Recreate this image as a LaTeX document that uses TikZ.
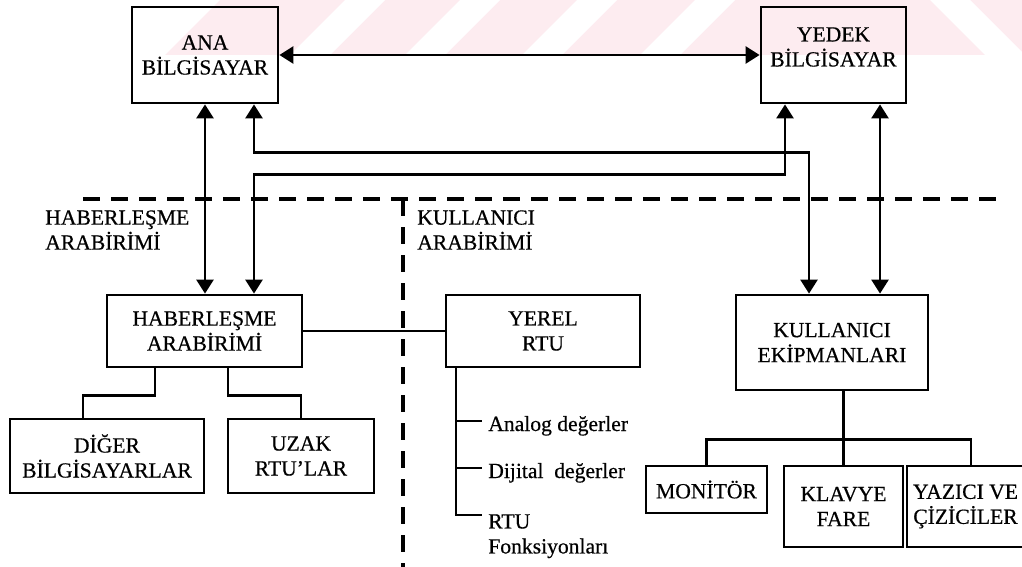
\documentclass[tikz,border=0pt]{standalone}
\usepackage{fontspec}
\setmainfont[FakeBold=0.5]{Liberation Serif}
\usetikzlibrary{arrows.meta}
\definecolor{wmpink}{RGB}{253,236,240}

\begin{document}
\begin{tikzpicture}[x=0.5pt, y=-0.5pt, >={Triangle[length=7pt, width=8.5pt]}, line width=1.3pt,
  box/.style={draw, line width=1.4pt, align=center, inner sep=0pt,
              font=\fontsize{10.8}{12.5}\selectfont},
  lbl/.style={align=left, inner sep=0pt, font=\fontsize{10.8}{12.5}\selectfont},
  sep/.style={line width=2.3pt, dash pattern=on 8.5pt off 5.5pt}]
  \useasboundingbox (0,0) rectangle (1022,567);
  \clip (0,0) rectangle (1022,567);

  % faint watermark band at the top
  \fill[wmpink] (165,55) -- (220,0) -- (1022,0) -- (1022,55) -- cycle;
  \foreach \s in {290,405,522,640}
    \fill[white] (\s,55) -- (\s+55,0) -- (\s+95,0) -- (\s+40,55) -- cycle;
  \fill[white] (930,0) -- (970,0) -- (1025,55) -- (985,55) -- cycle;

  % computers
  \node[box, minimum width=73pt, minimum height=48pt] (ana) at (205,55) {ANA\\BİLGİSAYAR};
  \node[box, minimum width=72.5pt, minimum height=48pt] (yedek) at (833.5,55) {};
  \node[lbl, align=center] (yedektxt) at (833.5,47) {YEDEK\\BİLGİSAYAR};

  % interface boxes
  \node[box, minimum width=97.5pt, minimum height=36pt] (hab) at (204.5,331) {HABERLEŞME\\ARABİRİMİ};
  \node[box, minimum width=97pt, minimum height=36pt] (yerel) at (543,331) {YEREL\\RTU};
  \node[box, minimum width=96pt, minimum height=47.5pt] (kull) at (832,342.5) {KULLANICI\\EKİPMANLARI};

  % leaves
  \node[box, minimum width=97pt, minimum height=37pt] (diger) at (107,456) {DİĞER\\BİLGİSAYARLAR};
  \node[box, minimum width=73pt, minimum height=37pt] (uzak) at (301,456) {UZAK\\RTU’LAR};
  \node[box, minimum width=60.5pt, minimum height=23.5pt] (monitor) at (706.5,489.5) {MONİTÖR};
  \node[box, minimum width=59.5pt, minimum height=40.5pt] (klavye) at (843.5,506.5) {KLAVYE\\FARE};
  \node[box, minimum width=58.5pt, minimum height=40.5pt] (yazici) at (965.5,506.5) {YAZICI VE\\ÇİZİCİLER};

  % region labels
  \node[lbl, anchor=north west] (habl) at (44,209) {HABERLEŞME\\ARABİRİMİ};
  \node[lbl, anchor=north west] (kulll) at (416,209) {KULLANICI\\ARABİRİMİ};

  % local RTU items
  \node[lbl, anchor=base west] (analog) at (487,431) {Analog değerler};
  \node[lbl, anchor=base west] (dijital) at (487,478) {Dijital\ \ değerler};
  \node[lbl, anchor=north west] (fonk) at (487,513) {RTU\\Fonksiyonları};

  % dashed separators
  \coordinate (sepl) at (83,199);
  \coordinate (sepr) at (1002,199);
  \coordinate (sept) at (403,199);
  \coordinate (sepb) at (403,567);
  \draw[sep] (sepl) -- (sepr);
  \draw[sep] (sept) -- (sepb);

  % links between computers and interfaces
  \draw[<->] (ana) -- (yedek);
  \draw[<->] (ana.south) -- (ana.south |- hab.north);
  \draw[<->] ([xshift=24.5pt]ana.south) -- ++(0,48) -| ([xshift=-11.5pt]kull.north);
  \draw[<->] ([xshift=-24.25pt]yedek.south) -- ++(0,70) -| ([xshift=24.75pt]hab.north);
  \draw[<->] ([xshift=23.25pt]yedek.south) -- ([xshift=23.25pt]yedek.south |- kull.north);

  % plain lines
  \draw (hab) -- (yerel);
  \draw ([xshift=-24.75pt]hab.south) -- ++(0,27) -| ([xshift=-12pt]diger.north);
  \draw ([xshift=11.75pt]hab.south) -- ++(0,27) -| (uzak.north);
  \draw (klavye.north) -- (klavye.north |- kull.south);
  \draw (monitor.north) -- ++(0,-25) -| ([xshift=2.75pt]yazici.north);

  % RTU item ticks
  \coordinate (rtuline) at ([xshift=-43.5pt]yerel.south);
  \coordinate (analogtick) at ([xshift=-2.5pt, yshift=5pt]analog.base west);
  \coordinate (dijitaltick) at ([xshift=-2.5pt, yshift=5pt]dijital.base west);
  \coordinate (fonktick) at ([xshift=-2.5pt, yshift=-1pt]fonk.north west);
  \draw (rtuline) |- (fonktick);
  \draw (rtuline |- analogtick) -- (analogtick);
  \draw (rtuline |- dijitaltick) -- (dijitaltick);
\end{tikzpicture}
\end{document}
